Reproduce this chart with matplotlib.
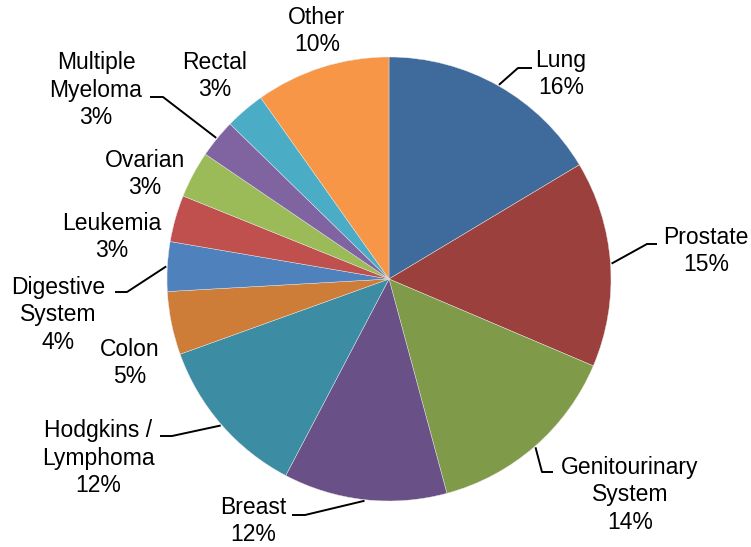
import numpy as np
import matplotlib
matplotlib.use("Agg")
import matplotlib.pyplot as plt

## Data (clockwise from 12 o'clock)
categories = ["Lung", "Prostate", "Genitourinary\nSystem", "Breast", "Hodgkins /\nLymphoma",
			  "Colon", "Digestive\nSystem", "Leukemia", "Ovarian", "Multiple\nMyeloma",
			  "Rectal", "Other"]
values = [16.4, 15.0, 14.4, 11.9, 11.8, 4.6, 3.6, 3.4, 3.4, 2.8, 2.9, 9.8]
colors = ["#3f6a9c", "#9c403e", "#7f9b49", "#695188", "#3c8ca4", "#ce7d39",
		  "#4f81bd", "#c0504d", "#9bbb59", "#8064a2", "#4bacc6", "#f79646"]

## Layout in image pixels: label centre, leader elbow, leader end (None = no leader)
W, H = 751, 547
cx, cy, R = 389, 279, 222
label_pos = [(561, 74), (706, 251), (630, 495), (253, 521), (98, 458), (130, 363),
			 (58, 315), (112, 237), (145, 174), (96, 90), (215, 76), (317, 31)]
elbows = [(518, 68), (647, 244), (542, 472), (305, 515), (172, 436), None,
		  (127, 292), None, None, (163, 97), None, None]
ends = [(532, 68), (657, 244), (553, 472), (292, 515), (160, 436), None,
		(115, 292), None, None, (150, 97), None, None]

def px(p):
	# image pixel -> data units (pie radius = 1)
	return ((p[0] - cx) / R, (cy - p[1]) / R)

fig = plt.figure(figsize=(W / 100, H / 100), dpi=100)
ax = fig.add_axes([0, 0, 1, 1])

wedges, _ = ax.pie(values, colors=colors, startangle=90, counterclock=False, radius=1,
				   wedgeprops=dict(edgecolor="#e8e8e8", linewidth=0.3))
# pie() resets the limits, so set them afterwards
ax.set_aspect("auto")
ax.set_xlim(-cx / R, (W - cx) / R)
ax.set_ylim(-(H - cy) / R, cy / R)
ax.axis("off")

total = sum(values)
for i, w in enumerate(wedges):
	txt = "{0}\n{1:.0f}%".format(categories[i], values[i] / total * 100)
	lx, ly = px(label_pos[i])
	ax.text(lx, ly, txt, ha="center", va="center", multialignment="center",
			fontsize=16.5, family=["Liberation Sans", "DejaVu Sans"], linespacing=1.24, color="black")
	if elbows[i] is not None:
		mid = np.deg2rad((w.theta1 + w.theta2) / 2)
		sx, sy = np.cos(mid) * 1.005, np.sin(mid) * 1.005
		ex, ey = px(elbows[i])
		tx, ty = px(ends[i])
		ax.plot([sx, ex, tx], [sy, ey, ty], color="black", lw=1.4, solid_capstyle="butt")

fig.savefig("out.png", dpi=100)
